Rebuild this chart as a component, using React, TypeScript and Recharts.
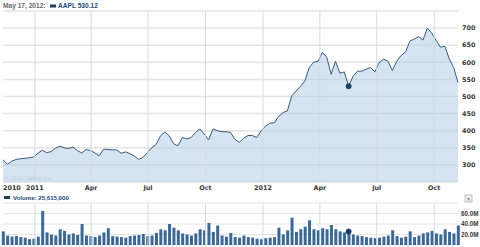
import React from 'react'
import {
  AreaChart,
  Area,
  BarChart,
  Bar,
  XAxis,
  YAxis,
  CartesianGrid,
  ReferenceLine,
  ReferenceDot,
} from 'recharts'

// weekly points, starting Thursday Nov 11, 2010
const START = Date.UTC(2010, 10, 11)
const DAY = 86400000
const WEEK = 7 * DAY

const closes = [
  315, 302, 311, 316, 318, 319, 321, 323, 334, 343,
  336, 339, 349, 355, 350, 348, 352, 342, 335, 345,
  342, 335, 327, 346, 345, 344, 344, 334, 338, 333,
  326, 316, 322, 336, 350, 360, 385, 396, 385, 362,
  356, 380, 376, 380, 395, 405, 390, 373, 405, 400,
  397, 397, 395, 375, 366, 378, 386, 386, 380, 400,
  413, 422, 423, 442, 453, 458, 502, 516, 530, 545,
  585, 600, 603, 629, 615, 565, 603, 568, 572, 530.12,
  559, 574, 574, 580, 585, 572, 600, 609, 603, 576,
  603, 620, 630, 662, 668, 675, 665, 700, 685, 664,
  644, 647, 610, 585, 541,
]

// millions of shares
const volumes = [
  26, 18, 16, 17, 15, 14, 11, 12, 16, 65,
  24, 20, 18, 30, 27, 20, 22, 19, 40, 18,
  17, 15, 18, 24, 32, 17, 16, 15, 14, 17,
  18, 19, 21, 17, 18, 23, 30, 28, 40, 33,
  28, 22, 20, 18, 22, 30, 28, 42, 25, 37,
  18, 16, 23, 15, 14, 18, 15, 14, 12, 11,
  13, 14, 15, 33, 20, 28, 52, 25, 30, 35,
  47, 30, 28, 32, 30, 38, 30, 26, 24, 25.615,
  20, 18, 17, 15, 14, 13, 14, 16, 18, 28,
  17, 14, 16, 26, 15, 18, 22, 24, 27, 22,
  20, 30, 25, 22, 37,
]

const quarterDates = ['2011-01-01', '2011-04-01', '2011-07-01', '2011-10-01', '2012-01-01', '2012-04-01', '2012-07-01', '2012-10-01']
const quarterLabels = ['2011', 'Apr', 'Jul', 'Oct', '2012', 'Apr', 'Jul', 'Oct']
const firstLabel = '2010'
const priceTicks = [300, 350, 400, 450, 500, 550, 600, 650, 700, 750]
const volumeTicks = [20, 40, 60, 80]

const SELECTED = '2012-05-17'
const TICKER = 'AAPL'

const data = closes.map((c, i) => ({ t: START + i * WEEK, close: c, volume: volumes[i] }))
const quarterTs = quarterDates.map((d) => Date.parse(d + 'T00:00:00Z'))
const selTs = Date.parse(SELECTED + 'T00:00:00Z')
const sel = data.find((d) => d.t === selTs)!
const xDomain = [data[0].t, data[data.length - 1].t]

const axisFont = { fontFamily: '"DejaVu Sans", sans-serif', fontSize: 6.4, fontWeight: 700, fill: '#3a3a3a' }
const volFont = { fontFamily: '"Liberation Sans", Arial, sans-serif', fontSize: 6.3, fontWeight: 700, fill: '#3a3a3a' }
const gridColor = '#e4e4e4'
const vGridColor = '#d3dbe4'
const lineColor = '#3b5a7a'
const fillColor = '#b3cde3'
const barColor = '#3b6894'
const markColor = '#1c3d64'

function XTick(props: any) {
  const { x, y, payload } = props
  const v = payload.value
  const idx = quarterTs.indexOf(v)
  const label = idx >= 0 ? quarterLabels[idx] : firstLabel
  return (
    <text x={x} y={y + 6} textAnchor={idx >= 0 ? 'middle' : 'start'} {...axisFont}>
      {label}
    </text>
  )
}

function fmtDate(ts: number) {
  const d = new Date(ts)
  const months = ['Jan', 'Feb', 'Mar', 'Apr', 'May', 'Jun', 'Jul', 'Aug', 'Sep', 'Oct', 'Nov', 'Dec']
  return `${months[d.getUTCMonth()]} ${d.getUTCDate()}, ${d.getUTCFullYear()}:`
}

export default function App() {
  return (
    <div style={{ position: 'absolute', left: 0, top: 0, width: 480, height: 247, background: '#fff', overflow: 'hidden' }}>
      <div style={{ position: 'absolute', left: 0, top: 0 }}>
        <AreaChart width={480} height={194} data={data} margin={{ top: 11, right: 2, left: 3, bottom: 0 }}>
          <CartesianGrid vertical={false} stroke={gridColor} strokeWidth={1.5} />
          <XAxis
            dataKey="t"
            type="number"
            domain={xDomain}
            ticks={[data[0].t, ...quarterTs]}
            tick={<XTick />}
            height={12}
            tickSize={0}
            tickMargin={2}
            axisLine={false}
            tickLine={false}
            interval={0}
          />
          <YAxis
            orientation="right"
            domain={[250, 750]}
            ticks={priceTicks}
            width={20}
            tickSize={0}
            tickMargin={4}
            axisLine={false}
            tickLine={false}
            interval={0}
            tick={{ ...axisFont, textAnchor: 'start' }}
            tickFormatter={(v: number) => (v === 750 ? '' : String(v))}
          />
          <Area
            type="linear"
            dataKey="close"
            stroke={lineColor}
            strokeWidth={1}
            fill={fillColor}
            fillOpacity={0.55}
            isAnimationActive={false}
            dot={false}
            activeDot={false}
          />
          {quarterTs.map((t) => (
            <ReferenceLine key={t} x={t} stroke={vGridColor} strokeWidth={1} />
          ))}
          <ReferenceDot x={sel.t} y={sel.close} r={2.5} fill={markColor} stroke={markColor} />
        </AreaChart>
      </div>
      <div style={{ position: 'absolute', left: 0, top: 190 }}>
        <BarChart width={480} height={57} data={data} margin={{ top: 13, right: 2, left: 3, bottom: 2 }}>
          <CartesianGrid vertical={false} stroke={gridColor} strokeWidth={1} />
          <XAxis dataKey="t" type="number" domain={xDomain} hide />
          <YAxis
            orientation="right"
            domain={[0, 80]}
            ticks={volumeTicks}
            width={20}
            tickSize={0}
            tickMargin={3}
            axisLine={false}
            tickLine={false}
            interval={0}
            tick={{ ...volFont, textAnchor: 'start' }}
            tickFormatter={(v: number) => (v === 80 ? '' : `${v.toFixed(1)}M`)}
          />
          {quarterTs.map((t) => (
            <ReferenceLine key={t} x={t} stroke={vGridColor} strokeWidth={1} />
          ))}
          <Bar dataKey="volume" fill={barColor} barSize={3} isAnimationActive={false} />
          <ReferenceDot x={sel.t} y={sel.volume} r={2.5} fill={markColor} stroke={markColor} />
        </BarChart>
      </div>
      <svg width={480} height={247} style={{ position: 'absolute', left: 0, top: 0, pointerEvents: 'none' }}>
        <text x={3} y={8} fontFamily='"Liberation Sans", Arial, sans-serif' fontSize={6.6} fontWeight={700} fill="#6a6a6a">
          {fmtDate(sel.t)}
        </text>
        <rect x={50} y={4.5} width={6} height={3} fill={markColor} />
        <text x={58} y={8} fontFamily='"Liberation Sans", Arial, sans-serif' fontSize={6.6} fontWeight={700} fill="#1d4a7c">
          {`${TICKER} ${sel.close.toFixed(2)}`}
        </text>
        <text x={5} y={180} fontFamily='"Liberation Sans", Arial, sans-serif' fontSize={5.6} fill="#b9cde0">
          © 2012 Yahoo! Inc.
        </text>
        <rect x={4} y={196} width={6} height={3} fill={markColor} />
        <text x={13} y={200} fontFamily='"Liberation Sans", Arial, sans-serif' fontSize={6.1} fontWeight={700} fill="#1d4a7c">
          {`Volume: ${Math.round(sel.volume * 1e6).toLocaleString('en-US')}`}
        </text>
        <rect x={465} y={195} width={7} height={7} fill="#f4f4f4" stroke="#b0b0b0" strokeWidth={0.8} />
        <text x={468.5} y={201} textAnchor="middle" fontFamily='"DejaVu Sans", sans-serif' fontSize={6} fill="#555">
          ×
        </text>
      </svg>
    </div>
  )
}
